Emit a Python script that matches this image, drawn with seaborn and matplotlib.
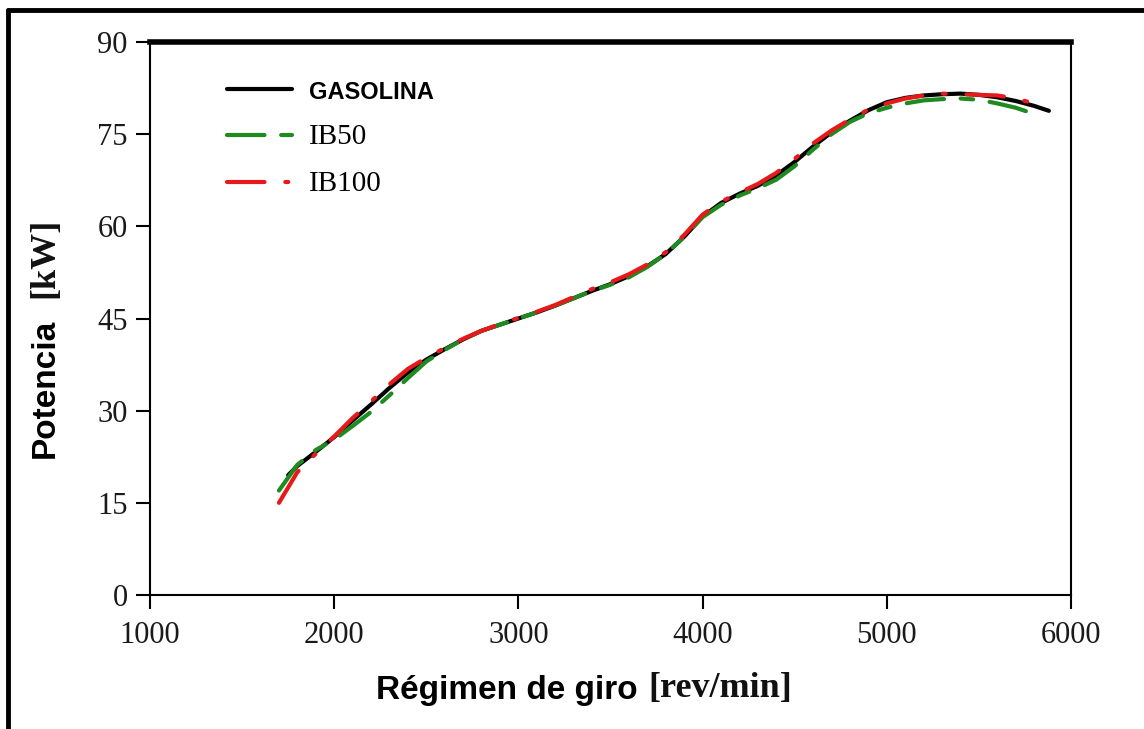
import numpy as np
import pandas as pd
import matplotlib
matplotlib.use("Agg")
import matplotlib.pyplot as plt
from matplotlib.lines import Line2D
import seaborn as sns

# ---- data ----
rpm_gasolina = [1750, 1800, 1900, 2000, 2100, 2200, 2300, 2400, 2500, 2600, 2700, 2800, 2900,
                3000, 3100, 3200, 3300, 3400, 3500, 3600, 3700, 3800, 3900, 4000, 4100, 4200,
                4300, 4400, 4500, 4600, 4700, 4800, 4900, 5000, 5100, 5200, 5300, 5400, 5500,
                5600, 5700, 5800, 5880]
pot_gasolina = [19.5, 21.0, 23.3, 25.7, 28.4, 31.0, 33.7, 36.2, 38.3, 40.0, 41.6, 43.0, 44.0,
                45.0, 46.0, 47.1, 48.3, 49.5, 50.6, 51.9, 53.5, 55.5, 58.3, 61.6, 63.8, 65.3,
                66.6, 68.3, 70.5, 73.0, 75.3, 77.2, 78.9, 80.2, 80.9, 81.3, 81.5, 81.6, 81.4,
                81.0, 80.4, 79.6, 78.8]

rpm_ib50 = [1700, 1800, 1900, 2000, 2100, 2200, 2300, 2400, 2500, 2600, 2700, 2800, 2900,
            3000, 3100, 3200, 3300, 3400, 3500, 3600, 3700, 3800, 3900, 4000, 4100, 4200,
            4300, 4400, 4500, 4600, 4700, 4800, 4900, 5000, 5100, 5200, 5300, 5400, 5500,
            5600, 5700, 5800]
pot_ib50 = [17.0, 21.2, 23.6, 25.3, 27.5, 29.8, 32.5, 35.3, 38.0, 39.9, 41.6, 43.0, 44.0,
            45.0, 46.0, 47.1, 48.3, 49.5, 50.5, 51.7, 53.4, 55.5, 58.3, 61.5, 63.5, 65.0,
            66.2, 67.6, 69.8, 72.5, 75.0, 77.0, 78.4, 79.3, 80.0, 80.5, 80.7, 80.8, 80.6,
            80.0, 79.3, 78.3]

rpm_ib100 = [1700, 1750, 1800, 1900, 2000, 2100, 2200, 2300, 2400, 2500, 2600, 2700, 2800, 2900,
             3000, 3100, 3200, 3300, 3400, 3500, 3600, 3700, 3800, 3900, 4000, 4100, 4200,
             4300, 4400, 4500, 4600, 4700, 4800, 4900, 5000, 5100, 5200, 5300, 5400, 5500,
             5600, 5700, 5800, 5870]
pot_ib100 = [15.0, 17.5, 20.0, 23.0, 25.8, 28.8, 31.5, 34.3, 36.8, 38.6, 40.2, 41.7, 43.0, 44.1,
             45.1, 46.1, 47.2, 48.5, 49.8, 50.9, 52.2, 53.8, 55.8, 58.6, 61.9, 64.0, 65.5,
             66.9, 68.7, 71.0, 73.5, 75.6, 77.4, 79.0, 80.0, 80.8, 81.3, 81.6, 81.5, 81.4,
             81.3, 80.8, 80.0, 79.4]

series_names = ["GASOLINA", "IB50", "IB100"]
series_colors = ["#000000", "#1f8a1f", "#e8191a"]
x_ticks = [1000, 2000, 3000, 4000, 5000, 6000]
y_ticks = [0, 15, 30, 45, 60, 75, 90]

df = pd.concat([
    pd.DataFrame({"rpm": rpm_gasolina, "pot": pot_gasolina, "Combustible": "GASOLINA"}),
    pd.DataFrame({"rpm": rpm_ib50, "pot": pot_ib50, "Combustible": "IB50"}),
    pd.DataFrame({"rpm": rpm_ib100, "pot": pot_ib100, "Combustible": "IB100"}),
], ignore_index=True)

sns.set_style("white")
plt.rcParams["font.family"] = ["Liberation Serif", "DejaVu Serif"]
plt.rcParams["text.color"] = "black"

W, H = 1144, 729
fig = plt.figure(figsize=(W / 100, H / 100), dpi=100)
ax = fig.add_axes([150 / W, 1 - 595 / H, (1071 - 150) / W, (595 - 42) / H])

sns.lineplot(data=df, x="rpm", y="pot", hue="Combustible", style="Combustible",
             hue_order=series_names, style_order=series_names,
             palette=dict(zip(series_names, series_colors)),
             dashes={"GASOLINA": "", "IB50": (9, 4, 3, 4), "IB100": (9, 5, 0.7, 5)},
             linewidth=3, ax=ax, legend=True, sort=True, estimator=None)

for ln in ax.get_lines():
    ln.set_solid_capstyle("round")
    ln.set_dash_capstyle("round")

ax.set_xlim(1000, 6000)
ax.set_ylim(0, 90)
ax.set_xticks(x_ticks)
ax.set_yticks(y_ticks)
ax.tick_params(axis="both", direction="out", length=10, width=1.5, colors="black",
               labelsize=22, pad=6, left=True, bottom=True)
for lab in ax.get_xticklabels() + ax.get_yticklabels():
    lab.set_color("#1a1a1a")
ax.xaxis.set_tick_params(pad=9)

ax.spines["top"].set_linewidth(4)
ax.spines["right"].set_linewidth(1.5)
ax.spines["left"].set_linewidth(1.5)
ax.spines["bottom"].set_linewidth(1.5)
for s in ax.spines.values():
    s.set_color("black")
    s.set_visible(True)

ax.set_xlabel("")
ax.set_ylabel("")

# legend
handles, labels = ax.get_legend_handles_labels()
leg = ax.legend(handles, labels, loc="upper left", bbox_to_anchor=(0.056, 0.978),
                frameon=False, fontsize=20, handlelength=2.35, handletextpad=0.6,
                labelspacing=0.75)
for t in leg.get_texts():
    t.set_color("black")
    if t.get_text() == "GASOLINA":
        t.set_fontfamily("Liberation Sans")
        t.set_fontweight("bold")
        t.set_fontsize(17)
    else:
        t.set_fontfamily("Liberation Serif")
        t.set_fontsize(21)

# axis labels (mixed fonts)
fig.text(638 / W, 1 - 690 / H, "Régimen de giro", ha="right", va="center", color="black",
         fontfamily="Liberation Sans", fontweight="bold", fontsize=24)
fig.text(648 / W, 1 - 688 / H, "[rev/min]", ha="left", va="center", color="#111111",
         fontfamily="Liberation Serif", fontweight="bold", fontsize=26)
fig.text(45 / W, 1 - 458 / H, "Potencia", ha="center", va="bottom", rotation=90,
         color="black", fontfamily="Liberation Sans", fontweight="bold", fontsize=24)
fig.text(45 / W, 1 - 298 / H, "[kW]", ha="center", va="bottom", rotation=90,
         color="#111111", fontfamily="Liberation Serif", fontweight="bold", fontsize=26)

# outer frame (top and left lines)
fig.add_artist(Line2D([8 / W, 1.0], [1 - 10 / H, 1 - 10 / H], transform=fig.transFigure,
                      color="black", linewidth=3.5))
fig.add_artist(Line2D([8 / W, 8 / W], [1 - 10 / H, 0], transform=fig.transFigure,
                      color="black", linewidth=3.5))

fig.savefig("out.png", dpi=100)
